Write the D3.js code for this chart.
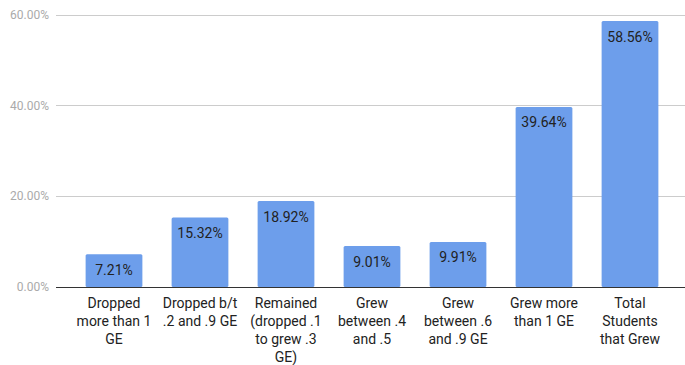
<!DOCTYPE html>
<html>
<head>
<meta charset="utf-8">
<script src="https://cdn.jsdelivr.net/npm/d3@7"></script>
<style>
  html, body { margin: 0; padding: 0; background: #fff; }
  svg { display: block; font-family: Roboto, "Noto Sans", sans-serif; }
</style>
</head>
<body>
<svg id="chart" width="685" height="365"></svg>
<script>
// Share of students by grade-equivalent change
const categories = [
  "Dropped more than 1 GE",
  "Dropped b/t .2 and .9 GE",
  "Remained (dropped .1 to grew .3 GE)",
  "Grew between .4 and .5",
  "Grew between .6 and .9 GE",
  "Grew more than 1 GE",
  "Total Students that Grew"
];
const categoryLines = [
  ["Dropped", "more than 1", "GE"],
  ["Dropped b/t", ".2 and .9 GE"],
  ["Remained", "(dropped .1", "to grew .3", "GE)"],
  ["Grew", "between .4", "and .5"],
  ["Grew", "between .6", "and .9 GE"],
  ["Grew more", "than 1 GE"],
  ["Total", "Students", "that Grew"]
];
const values = [7.21, 15.32, 18.92, 9.01, 9.91, 39.64, 58.56];
const yTicks = [0, 20, 40, 60];

const svg = d3.select("#chart");
const gridLeft = 56, gridRight = 685;
const y = d3.scaleLinear().domain([0, 60]).range([287, 14.5]);
const x = d3.scaleBand().domain(categories).range([71, 673])
  .paddingInner(0.34).paddingOuter(0.17);

// gridlines
svg.append("g").selectAll("line").data(yTicks.filter(d => d > 0)).join("line")
  .attr("x1", gridLeft).attr("x2", gridRight)
  .attr("y1", d => Math.round(y(d)) + 0.5).attr("y2", d => Math.round(y(d)) + 0.5)
  .attr("stroke", "#cccccc").attr("stroke-width", 1);

// y tick labels
svg.append("g").selectAll("text").data(yTicks).join("text")
  .attr("x", 49).attr("y", d => y(d)).attr("dy", "0.35em")
  .attr("text-anchor", "end").attr("font-size", 12).attr("fill", "#aaaaaa")
  .text(d => d3.format(".2f")(d) + "%");

// bars
svg.append("g").selectAll("rect").data(values).join("rect")
  .attr("x", (d, i) => x(categories[i]))
  .attr("width", x.bandwidth())
  .attr("y", d => y(d))
  .attr("height", d => y(0) - y(d))
  .attr("rx", 1.5)
  .attr("fill", "#6d9eeb");

// value labels inside bar tops
svg.append("g").selectAll("text").data(values).join("text")
  .attr("x", (d, i) => x(categories[i]) + x.bandwidth() / 2)
  .attr("y", d => y(d) + 20.5)
  .attr("text-anchor", "middle").attr("font-size", 14).attr("fill", "#222222")
  .text(d => d3.format(".2f")(d) + "%");

// baseline
svg.append("line")
  .attr("x1", gridLeft).attr("x2", gridRight)
  .attr("y1", Math.round(y(0)) + 0.5).attr("y2", Math.round(y(0)) + 0.5)
  .attr("stroke", "#333333").attr("stroke-width", 1);

// category labels
const cat = svg.append("g").selectAll("text").data(categories).join("text")
  .attr("text-anchor", "middle").attr("font-size", 14).attr("fill", "#222222");
cat.each(function(c, i) {
  const cx = x(c) + x.bandwidth() / 2;
  d3.select(this).selectAll("tspan").data(categoryLines[i]).join("tspan")
    .attr("x", cx).attr("y", (d, j) => 308 + j * 18)
    .text(d => d);
});
</script>
</body>
</html>
